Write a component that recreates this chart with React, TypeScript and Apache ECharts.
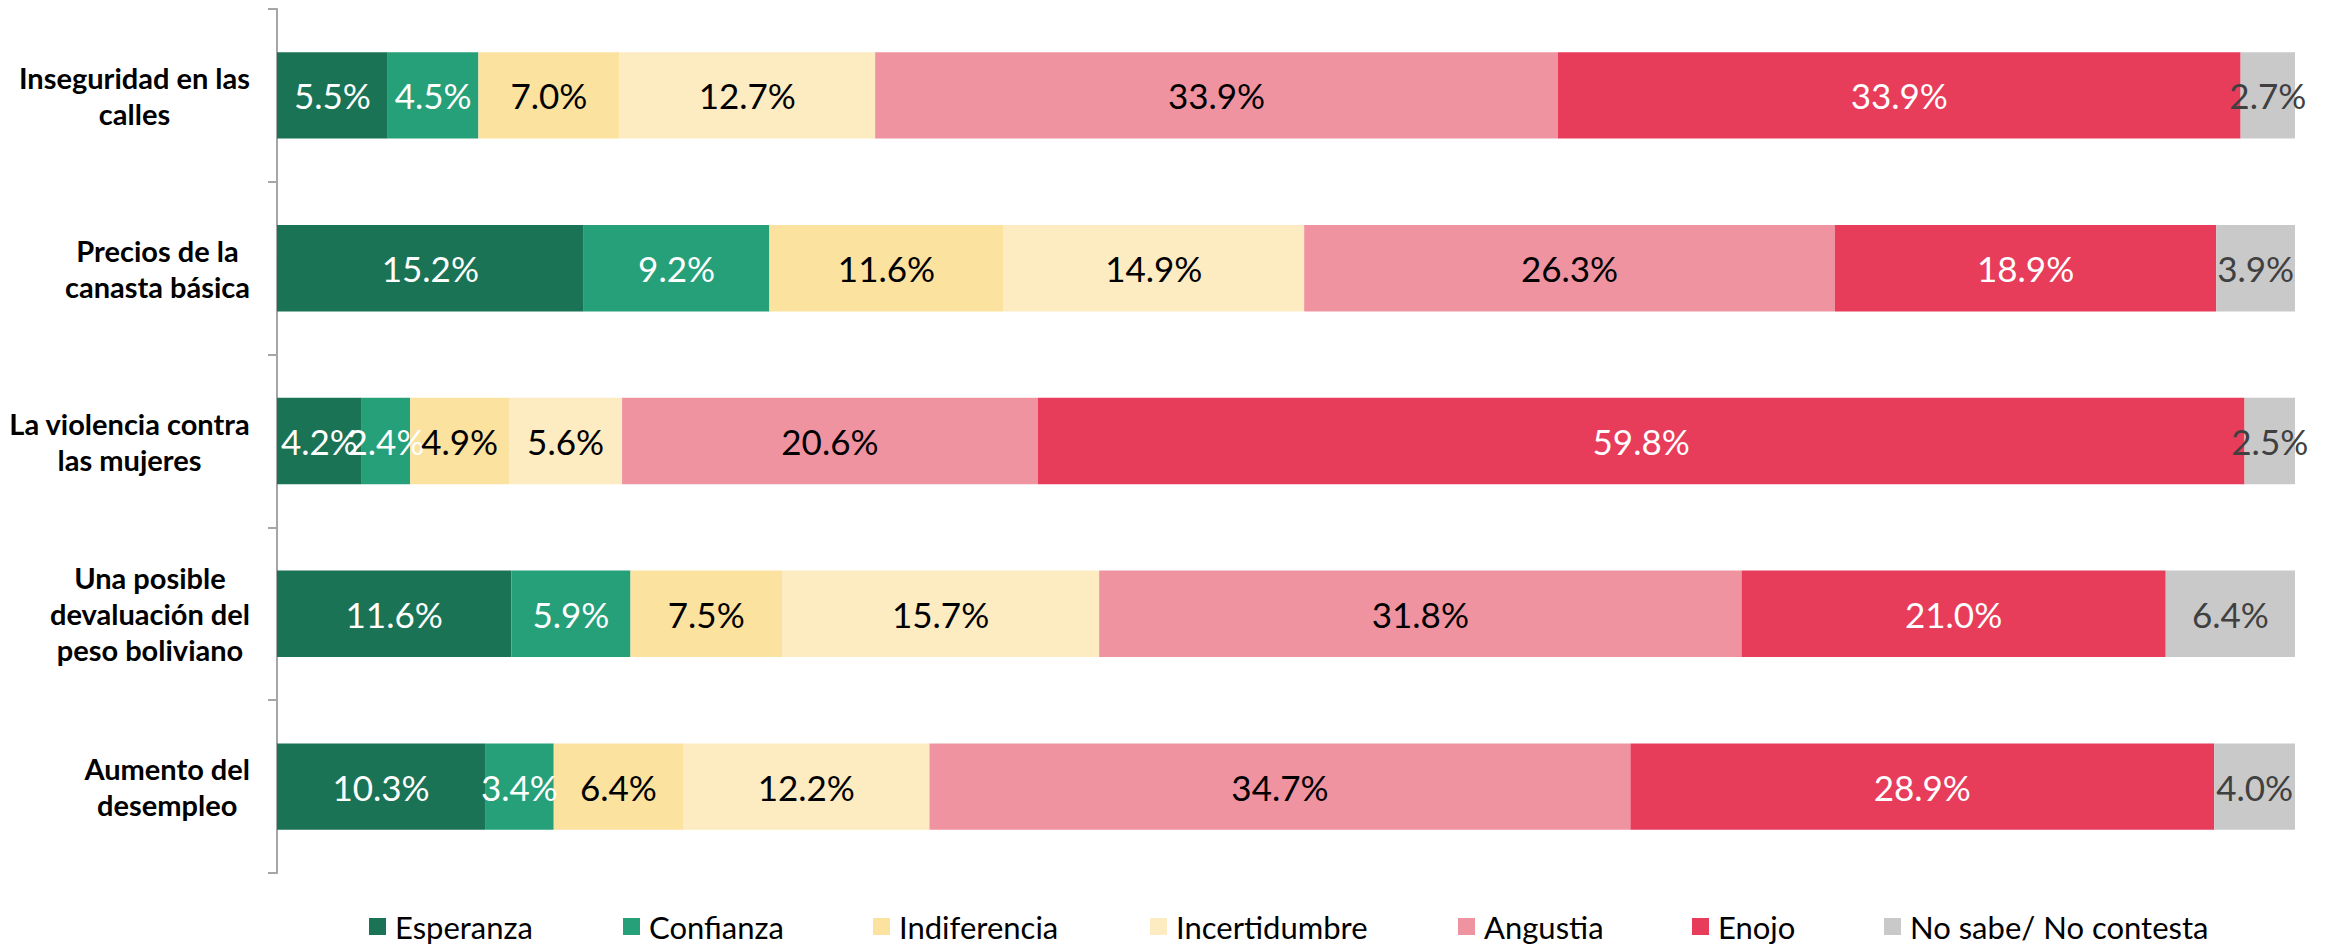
import React, { useEffect, useRef } from "react";
import * as echarts from "echarts";

const categories = [
  "Inseguridad en las\ncalles",
  "Precios de la\ncanasta básica",
  "La violencia contra\nlas mujeres",
  "Una posible\ndevaluación del\npeso boliviano",
  "Aumento del\ndesempleo",
];

const seriesNames = [
  "Esperanza",
  "Confianza",
  "Indiferencia",
  "Incertidumbre",
  "Angustia",
  "Enojo",
  "No sabe/ No contesta",
];

const esperanza = [5.5, 15.2, 4.2, 11.6, 10.3];
const confianza = [4.5, 9.2, 2.4, 5.9, 3.4];
const indiferencia = [7.0, 11.6, 4.9, 7.5, 6.4];
const incertidumbre = [12.7, 14.9, 5.6, 15.7, 12.2];
const angustia = [33.9, 26.3, 20.6, 31.8, 34.7];
const enojo = [33.9, 18.9, 59.8, 21.0, 28.9];
const noSabe = [2.7, 3.9, 2.5, 6.4, 4.0];

const seriesValues = [esperanza, confianza, indiferencia, incertidumbre, angustia, enojo, noSabe];

const colors = ["#1b7355", "#26a078", "#fbe29f", "#fdebc2", "#f093a1", "#e83c5b", "#c9c9c9"];
const labelColors = ["#ffffff", "#ffffff", "#000000", "#000000", "#000000", "#ffffff", "#404040"];

// legend text box widths (layout), so icons land where the reference has them
const legendTextWidths = [228, 224, 251, 282, 208, 166, 300];

export default function App() {
  const ref = useRef<HTMLDivElement>(null);

  useEffect(() => {
    if (!ref.current) return;
    const chart = echarts.init(ref.current, null, { renderer: "svg" });

    const rowTotals = categories.map((_, i) =>
      seriesValues.reduce((s, arr) => s + arr[i], 0)
    );

    const series = seriesNames.map((name, si) => ({
      name,
      type: "bar",
      stack: "total",
      barCategoryGap: "50%",
      itemStyle: { color: colors[si] },
      label: {
        show: true,
        position: "inside",
        color: labelColors[si],
        fontFamily: "Lato",
        fontSize: 35,
        formatter: (p: any) => seriesValues[si][p.dataIndex].toFixed(1) + "%",
      },
      data: seriesValues[si].map((v, i) => (v / rowTotals[i]) * 100),
    }));

    chart.setOption({
      animation: false,
      color: colors,
      grid: { left: 277, right: 38, top: 9, bottom: 77, containLabel: false },
      legend: {
        top: 911,
        left: 369,
        padding: 0,
        icon: "rect",
        itemWidth: 17,
        itemHeight: 17,
        itemGap: 0,
        textStyle: {
          fontFamily: "Lato",
          fontSize: 31,
          lineHeight: 31,
          color: "#000",
          padding: [0, 0, 0, 4],
        },
        data: seriesNames.map((name, i) => ({
          name,
          textStyle: { width: legendTextWidths[i] },
        })),
      },
      xAxis: { type: "value", min: 0, max: 100, show: false },
      yAxis: {
        type: "category",
        inverse: true,
        data: categories,
        axisLine: { show: true, lineStyle: { color: "#a6a6a6", width: 2 } },
        axisTick: { show: true, length: 9, lineStyle: { color: "#a6a6a6", width: 2 } },
        axisLabel: {
          margin: 27,
          align: "right",
          formatter: (v: string) =>
            v
              .split("\n")
              .map((l) => `{c|${l}}`)
              .join("\n"),
          rich: {
            c: {
              align: "center",
              fontFamily: "Lato",
              fontWeight: "bold",
              fontSize: 29,
              lineHeight: 36,
              color: "#000",
            },
          },
        },
      },
      series,
    });

    return () => chart.dispose();
  }, []);

  return (
    <div
      ref={ref}
      style={{ position: "absolute", left: 0, top: 0, width: 2333, height: 950 }}
    />
  );
}
